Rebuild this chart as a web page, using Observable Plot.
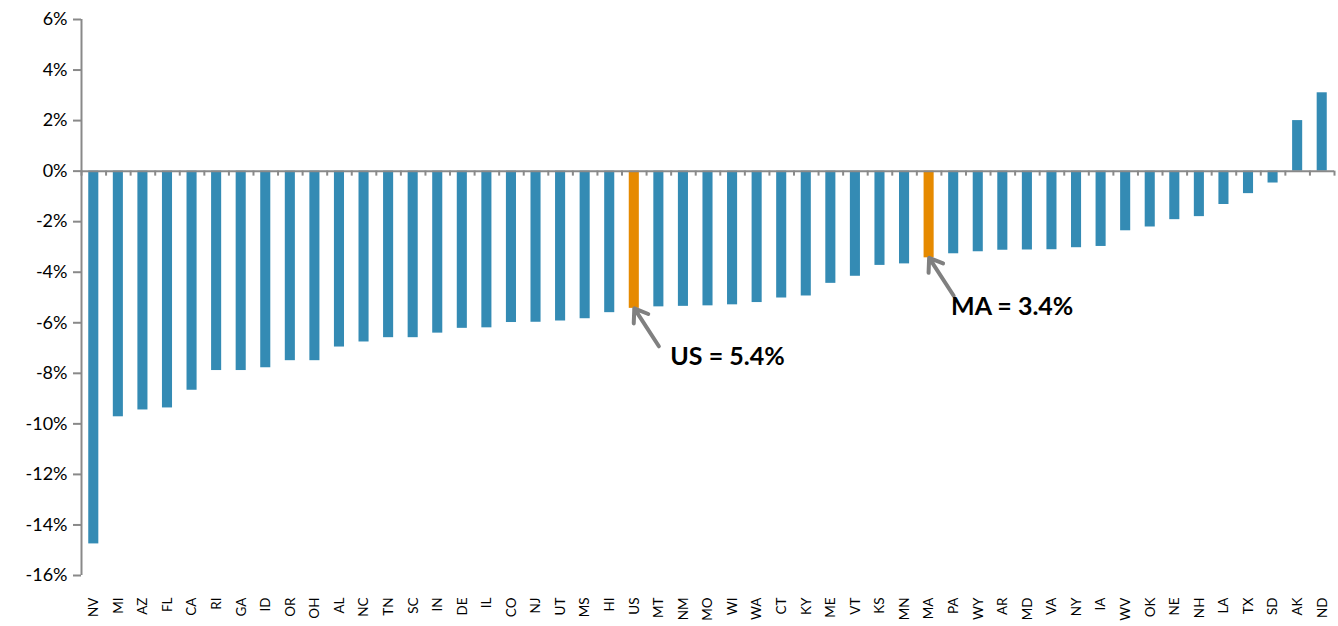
<!DOCTYPE html>
<html>
<head>
<meta charset="utf-8">
<script src="https://cdn.jsdelivr.net/npm/d3@7"></script>
<script src="https://cdn.jsdelivr.net/npm/@observablehq/plot@0.6"></script>
<style>
  html, body { margin: 0; padding: 0; background: #fff; }
  #chart { width: 1338px; height: 626px; }
</style>
</head>
<body>
<div id="chart"></div>
<script>
const states = ["NV","MI","AZ","FL","CA","RI","GA","ID","OR","OH","AL","NC","TN","SC","IN","DE","IL","CO","NJ","UT","MS","HI","US","MT","NM","MO","WI","WA","CT","KY","ME","VT","KS","MN","MA","PA","WY","AR","MD","VA","NY","IA","WV","OK","NE","NH","LA","TX","SD","AK","ND"];
const values = [-14.75,-9.72,-9.45,-9.37,-8.67,-7.89,-7.89,-7.78,-7.50,-7.50,-6.96,-6.76,-6.59,-6.59,-6.41,-6.22,-6.20,-5.99,-5.98,-5.93,-5.84,-5.60,-5.43,-5.37,-5.35,-5.33,-5.29,-5.20,-5.02,-4.94,-4.44,-4.16,-3.73,-3.67,-3.43,-3.27,-3.19,-3.13,-3.12,-3.11,-3.03,-2.98,-2.36,-2.21,-1.92,-1.80,-1.32,-0.89,-0.47,2.00,3.10];
const highlighted = ["US","MA"];
const yTicks = [-16,-14,-12,-10,-8,-6,-4,-2,0,2,4,6];

const data = states.map((s, i) => ({state: s, value: values[i], hi: highlighted.includes(s)}));
const annots = highlighted.map(s => {
  const i = states.indexOf(s);
  return {state: s, next: states[i + 1], value: values[i], label: `${s} = ${Math.abs(values[i]).toFixed(1)}%`};
});

const W = 1338, H = 626, mt = 19, mb = 51, ml = 81, mr = 4;
const step = (W - ml - mr) / states.length;
const pxPerUnit = (H - mt - mb) / (yTicks[yTicks.length - 1] - yTicks[0]);
const tickLen = 5 / pxPerUnit;
const grey = "#898989";
const blue = "#348bb4";
const orange = "#e68a00";

const textDx = {US: 36, MA: 22};

const plot = Plot.plot({
  width: W, height: H,
  marginTop: mt, marginBottom: mb, marginLeft: ml, marginRight: mr,
  style: {fontFamily: "Lato, 'Open Sans', sans-serif", background: "#fff", color: "#000"},
  x: {domain: states, paddingInner: 0.59, paddingOuter: 0.295, align: 0.5, round: false, label: null},
  y: {domain: [yTicks[0], yTicks[yTicks.length - 1]], nice: false, label: null},
  marks: [
    Plot.barY(data, {x: "state", y: "value", fill: d => d.hi ? orange : blue}),
    Plot.ruleY([0], {stroke: grey, strokeWidth: 2}),
    Plot.ruleX(states, {x: d => d, y1: 0, y2: -tickLen, dx: -step / 2, stroke: grey, strokeWidth: 2}),
    Plot.ruleX(states.slice(-1), {x: d => d, y1: 0, y2: -tickLen, dx: step / 2, stroke: grey, strokeWidth: 2}),
    Plot.ruleX(states.slice(0, 1), {x: d => d, y1: yTicks[0], y2: yTicks[yTicks.length - 1], dx: -step / 2, stroke: grey, strokeWidth: 2}),
    Plot.axisY({ticks: yTicks, tickFormat: d => d + "%", tickSize: 8, tickPadding: 6, fontSize: 18, stroke: grey, strokeWidth: 2, label: null}),
    Plot.axisX({tickSize: 0, tickPadding: 22, tickRotate: -90, fontSize: 13.5, label: null}),
    Plot.arrow(annots, {x1: "next", y1: d => d.value - 1.5, x2: "state", y2: "value", stroke: "#808080", strokeWidth: 4, headLength: 10, headAngle: 70}),
    ...annots.map(a => Plot.text([a], {x: "state", y: d => d.value - 1.93, text: "label", dx: textDx[a.state], textAnchor: "start", fontSize: 25, fontWeight: "bold", fill: "#000", lineAnchor: "middle"}))
  ]
});
document.getElementById("chart").appendChild(plot);
</script>
</body>
</html>
